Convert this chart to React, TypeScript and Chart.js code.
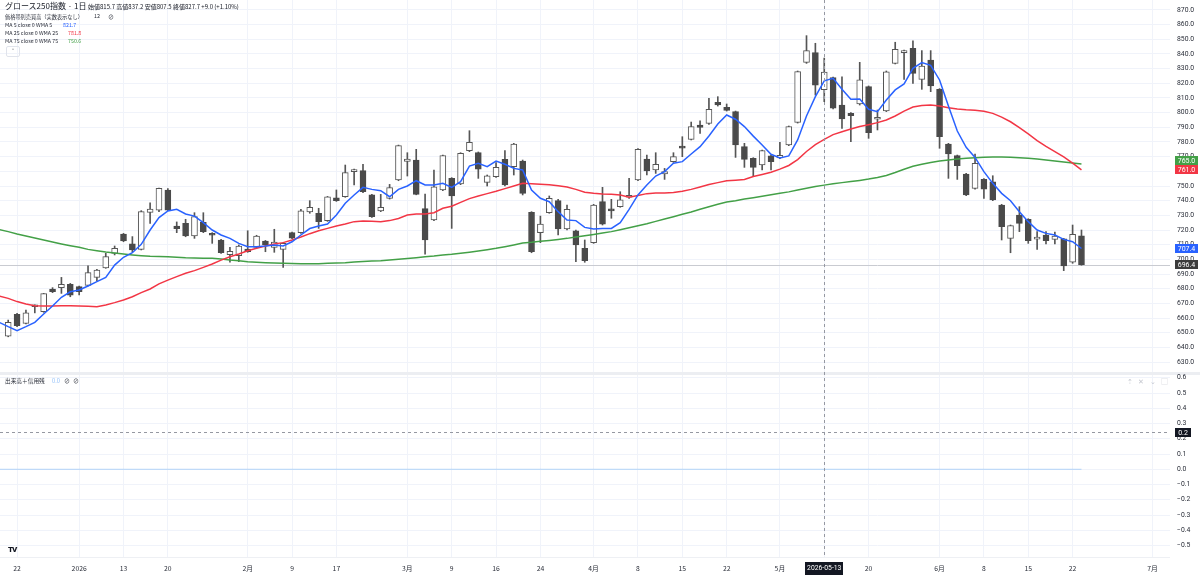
import { useEffect, useRef } from "react";
import { Chart, registerables } from "chart.js";

Chart.register(...registerables);

// daily candles, 2025-12-19 .. 2026-06-23 (index 0 .. 121)
const opens = [
  647.7, 662.5, 656.4, 667.7, 664.3, 679.8, 680.7, 682.9, 681.4, 682.3,
  687.7, 694.1, 704.1, 717.3, 710.5, 706.8, 732.0, 733.6, 747.3, 722.7,
  724.5, 715.9, 725.2, 717.7, 713.2, 703.2, 702.5, 707.0, 708.2, 712.5,
  708.2, 706.8, 718.2, 718.2, 732.3, 731.4, 726.4, 742.0, 742.7, 759.8,
  760.5, 743.9, 733.0, 741.6, 754.1, 766.8, 767.7, 734.6, 726.8, 747.3,
  755.2, 751.4, 774.1, 772.7, 752.5, 756.4, 768.2, 763.2, 767.0, 732.1,
  718.2, 731.8, 740.0, 720.7, 719.5, 707.5, 711.4, 739.3, 733.2, 735.9,
  742.3, 754.1, 768.4, 760.9, 758.2, 766.6, 776.5, 781.8, 791.6, 792.7,
  807.0, 803.6, 800.7, 776.8, 768.9, 764.3, 770.5, 769.1, 778.0, 793.4,
  834.3, 840.9, 815.7, 823.9, 805.2, 799.5, 805.9, 817.7, 795.5, 801.1,
  833.6, 840.9, 843.9, 822.7, 835.9, 815.9, 778.6, 770.7, 758.2, 748.4,
  754.5, 752.9, 737.0, 714.3, 730.2, 727.3, 713.8, 716.6, 713.6, 713.9,
  698.0, 716.1,
];
const highs = [
  658.6, 663.2, 665.4, 669.0, 676.8, 680.7, 687.7, 683.6, 681.8, 695.5,
  693.2, 704.1, 709.1, 717.7, 715.5, 733.2, 738.6, 748.6, 748.2, 725.5,
  727.3, 731.8, 731.8, 718.2, 713.6, 708.2, 709.8, 719.5, 716.4, 712.9,
  720.5, 711.4, 718.6, 734.1, 740.0, 734.8, 742.9, 747.3, 764.3, 761.6,
  764.8, 744.3, 744.3, 751.1, 777.9, 772.7, 775.0, 744.5, 760.9, 771.1,
  755.7, 772.7, 787.7, 773.2, 757.5, 765.9, 774.1, 779.1, 767.7, 732.5,
  729.5, 743.2, 740.9, 737.0, 720.0, 713.2, 737.5, 749.1, 740.9, 746.1,
  755.2, 775.5, 771.1, 772.7, 762.0, 772.7, 783.6, 793.6, 794.5, 809.8,
  810.9, 805.9, 801.1, 779.1, 769.3, 774.5, 771.0, 779.8, 790.9, 828.4,
  852.5, 847.3, 837.2, 824.3, 824.5, 800.0, 834.3, 818.2, 801.8, 828.4,
  848.0, 842.7, 848.9, 842.3, 842.3, 816.4, 779.1, 771.1, 758.6, 771.8,
  755.0, 757.0, 737.5, 723.4, 735.9, 727.7, 718.9, 718.9, 718.6, 714.3,
  723.4, 720.0,
];
const lows = [
  647.2, 654.1, 655.9, 663.5, 663.9, 677.3, 676.8, 674.5, 675.7, 681.8,
  685.5, 693.9, 703.0, 712.0, 705.2, 706.4, 724.5, 732.5, 733.2, 718.2,
  715.4, 714.3, 718.2, 710.9, 704.1, 698.0, 698.4, 704.8, 707.7, 705.2,
  704.8, 694.5, 714.1, 717.7, 731.4, 721.1, 725.9, 739.5, 742.3, 750.7,
  745.5, 728.6, 732.5, 741.1, 753.6, 756.8, 744.0, 703.6, 726.4, 746.8,
  721.1, 750.9, 773.4, 755.2, 750.0, 755.9, 750.0, 757.5, 743.9, 704.5,
  711.4, 731.4, 716.6, 720.0, 698.4, 698.0, 710.9, 723.4, 728.0, 735.5,
  741.6, 753.6, 757.5, 758.6, 754.5, 766.1, 770.0, 781.4, 785.9, 792.0,
  804.5, 801.1, 769.5, 762.7, 756.4, 760.9, 760.9, 768.6, 777.5, 792.9,
  833.6, 812.0, 807.5, 802.5, 789.3, 780.2, 805.2, 782.5, 788.2, 800.7,
  833.2, 822.7, 820.0, 815.9, 814.3, 775.7, 755.2, 754.5, 743.4, 747.9,
  741.6, 740.0, 713.2, 704.5, 718.9, 710.9, 706.8, 710.5, 710.5, 692.3,
  697.3, 696.0,
];
const closes = [
  657.0, 654.8, 663.6, 668.6, 676.6, 677.9, 682.9, 675.5, 677.9, 690.9,
  692.7, 701.8, 707.5, 712.5, 706.4, 732.5, 734.3, 748.4, 733.6, 720.9,
  715.9, 729.1, 718.9, 716.4, 704.5, 705.5, 709.1, 705.2, 715.9, 710.0,
  711.8, 710.9, 714.5, 733.0, 735.5, 725.7, 742.7, 740.0, 759.1, 760.9,
  746.1, 729.1, 735.5, 748.9, 777.5, 768.4, 744.3, 713.2, 749.5, 770.7,
  743.2, 772.3, 779.8, 761.4, 757.0, 762.7, 750.7, 778.6, 745.0, 705.2,
  724.1, 741.6, 720.7, 734.1, 709.8, 699.1, 737.0, 723.9, 733.0, 740.5,
  742.8, 775.0, 760.2, 764.8, 759.8, 770.0, 775.8, 790.5, 790.0, 802.3,
  805.2, 801.6, 778.0, 768.2, 762.7, 774.1, 766.6, 770.9, 790.5, 828.0,
  842.3, 818.7, 827.7, 803.0, 795.7, 798.0, 822.3, 786.4, 796.8, 827.9,
  843.2, 842.0, 826.8, 831.8, 818.2, 783.6, 771.8, 763.9, 743.9, 765.5,
  747.9, 740.5, 722.3, 723.0, 724.5, 712.7, 714.5, 712.7, 715.9, 695.5,
  717.0, 696.4,
];

// weighted moving averages, first value belongs to the day before index 0
const MA_START = -1;
const wma5 = [
  657.0, 654.1, 651.4, 654.1, 657.0, 662.7, 668.2, 674.1, 677.9, 679.1,
  681.8, 684.8, 687.7, 696.1, 701.4, 704.5, 710.2, 720.0, 728.5, 733.0,
  734.1, 730.9, 729.5, 725.0, 720.0, 716.6, 714.3, 710.9, 708.6, 708.6,
  709.1, 709.8, 709.1, 712.0, 716.6, 721.0, 722.7, 724.1, 730.2, 738.2,
  743.9, 749.1, 747.7, 746.8, 742.7, 747.7, 750.0, 753.6, 750.7, 750.7,
  751.8, 749.0, 753.0, 763.6, 765.5, 763.2, 767.0, 764.8, 762.0, 760.9,
  747.3, 741.6, 739.3, 732.5, 726.8, 726.4, 721.8, 720.7, 721.0, 721.1,
  725.0, 734.1, 743.9, 750.7, 756.8, 759.8, 765.5, 766.6, 771.8, 776.8,
  784.1, 792.3, 798.4, 795.5, 790.5, 784.0, 778.0, 771.6, 769.1, 770.5,
  781.4, 797.7, 810.9, 821.7, 823.4, 815.9, 809.1, 809.3, 802.3, 800.7,
  808.6, 815.5, 819.6, 830.2, 834.1, 832.3, 822.3, 804.5, 787.5, 776.4,
  769.5, 759.8, 751.8, 745.0, 740.0, 732.5, 725.7, 720.0, 717.7, 716.6,
  713.6, 712.0, 707.4,
];
const wma25 = [
  675.0, 673.4, 671.2, 669.5, 668.4, 668.2, 668.2, 668.3, 668.3, 668.2,
  668.0, 667.7, 668.9, 670.5, 672.3, 674.5, 677.3, 679.8, 683.3, 685.8,
  688.2, 690.5, 692.3, 694.5, 696.8, 699.5, 701.8, 703.6, 705.9, 707.5,
  709.1, 710.5, 711.4, 713.2, 715.2, 717.5, 719.5, 721.1, 722.7, 724.1,
  725.7, 726.1, 725.9, 725.7, 726.4, 727.9, 730.2, 730.9, 730.9, 731.8,
  734.8, 736.2, 738.8, 741.4, 743.2, 744.8, 746.4, 748.2, 750.0, 751.8,
  751.6, 751.2, 750.8, 750.2, 749.3, 747.7, 745.7, 745.0, 744.5, 744.3,
  743.9, 742.3, 743.5, 744.8, 745.3, 745.2, 745.5, 746.4, 747.7, 749.3,
  751.0, 752.3, 753.6, 754.0, 754.5, 756.5, 757.9, 759.4, 761.5, 764.0,
  768.0, 773.5, 778.2, 781.8, 785.0, 787.0, 788.8, 790.5, 791.8, 793.2,
  795.0, 797.7, 801.0, 803.8, 804.8, 805.2, 804.6, 803.4, 802.5, 802.0,
  801.7, 801.0, 799.5, 797.0, 793.8, 789.8, 785.5, 781.0, 777.0, 773.5,
  769.8, 765.6, 761.0,
];
const wma75 = [
  720.3, 718.9, 717.3, 715.9, 714.5, 713.2, 711.8, 710.5, 709.3, 708.2,
  706.8, 705.9, 705.0, 704.3, 703.6, 703.0, 702.5, 702.1, 701.9, 701.8,
  701.5, 701.1, 700.9, 700.8, 700.7, 700.2, 699.5, 699.1, 698.4, 698.0,
  697.7, 697.5, 697.3, 697.2, 697.0, 697.0, 697.0, 697.3, 697.5, 697.7,
  698.2, 698.6, 698.9, 699.1, 699.5, 700.0, 700.5, 701.1, 701.8, 702.3,
  703.0, 703.5, 704.2, 704.9, 705.7, 706.6, 707.5, 708.6, 709.8, 711.1,
  711.6, 712.3, 712.9, 713.6, 714.3, 715.2, 716.1, 717.0, 717.9, 718.9,
  720.2, 721.6, 722.9, 724.3, 725.9, 727.5, 729.1, 730.7, 732.3, 734.1,
  735.9, 737.5, 739.1, 740.0, 741.1, 742.0, 743.0, 744.0, 745.0, 746.0,
  747.3, 748.5, 749.6, 750.6, 751.5, 752.3, 753.0, 753.8, 754.7, 755.8,
  757.2, 759.2, 761.4, 763.4, 764.8, 766.0, 767.0, 767.8, 768.4, 768.9,
  769.3, 769.6, 769.8, 769.8, 769.6, 769.3, 769.0, 768.4, 767.8, 767.0,
  766.3, 765.6, 765.0,
];

// 出来高＋信用残 pane: a flat line at zero
const creditIndex = [-1, 121];
const creditValues = [0.0, 0.0];

const priceTicks = [630, 640, 650, 660, 670, 680, 690, 700, 710, 720, 730, 740, 750, 760, 770, 780, 790, 800, 810, 820, 830, 840, 850, 860, 870];
const subTicks = [0.6, 0.5, 0.4, 0.3, 0.2, 0.1, 0.0, -0.1, -0.2, -0.3, -0.4, -0.5];
const dateTicks = [1, 8, 13, 18, 27, 32, 37, 45, 50, 55, 60, 66, 71, 76, 81, 87, 92, 97, 105, 110, 115, 120, 129];
const dateLabels = ["22", "2026", "13", "20", "2月", "9", "17", "3月", "9", "16", "24", "4月", "8", "15", "22", "5月", "13", "20", "6月", "8", "15", "22", "7月"];

const X_MIN = -0.924;
const X_MAX = 130.98;
const CROSS_INDEX = 92;
const CROSS_DATE = "2026-05-13";
const CROSS_SUB = 0.246;

const FONT = "Roboto, 'Noto Sans', sans-serif";
const JP = "'Noto Sans CJK JP', 'Noto Sans', sans-serif";
const TEXT = "#2a2e39";
const GRID = "#f0f3fa";
const DARK = "#4a4a4a";
const BLUE = "#2962ff";
const RED = "#f23645";
const GREEN = "#43a047";

const tagBox = (ctx: any, x: number, y: number, w: number, text: string, bg: string) => {
  ctx.fillStyle = bg;
  ctx.fillRect(x, Math.round(y - 4.5), w, 9);
  ctx.fillStyle = "#ffffff";
  ctx.font = `7px ${FONT}`;
  ctx.textAlign = "center";
  ctx.textBaseline = "middle";
  ctx.fillText(text, x + w / 2, y + 0.5);
};

const crossLine = {
  id: "crossLine",
  afterDatasetsDraw(chart: any) {
    const { ctx, chartArea, scales } = chart;
    const x = Math.round(scales.x.getPixelForValue(CROSS_INDEX)) + 0.5;
    ctx.save();
    ctx.strokeStyle = "#9598a1";
    ctx.lineWidth = 1;
    ctx.setLineDash([3, 3]);
    ctx.beginPath();
    ctx.moveTo(x, 0);
    ctx.lineTo(x, chartArea.bottom);
    ctx.stroke();
    ctx.restore();
  },
};

const priceExtras = {
  id: "priceExtras",
  beforeDatasetsDraw(chart: any) {
    const { ctx, chartArea, scales } = chart;
    const y = Math.round(scales.y.getPixelForValue(closes[closes.length - 1])) + 0.5;
    ctx.save();
    ctx.strokeStyle = "#c9cbd1";
    ctx.lineWidth = 1;
    ctx.beginPath();
    ctx.moveTo(chartArea.left, y);
    ctx.lineTo(chartArea.right, y);
    ctx.stroke();
    ctx.restore();
  },
  afterDraw(chart: any) {
    const { ctx, scales } = chart;
    const tags = [
      { v: wma75[wma75.length - 1], c: GREEN },
      { v: wma25[wma25.length - 1], c: RED },
      { v: wma5[wma5.length - 1], c: BLUE },
      { v: closes[closes.length - 1], c: "#3c3c3c" },
    ].map((t) => ({ ...t, y: scales.y.getPixelForValue(t.v) }));
    tags.sort((a, b) => b.y - a.y);
    for (let i = 1; i < tags.length; i++) {
      if (tags[i - 1].y - tags[i].y < 9) tags[i].y = tags[i - 1].y - 9;
    }
    ctx.save();
    tags.forEach((t) => tagBox(ctx, 1175, t.y, 23, t.v.toFixed(1), t.c));
    ctx.restore();
  },
};

const subExtras = {
  id: "subExtras",
  afterDraw(chart: any) {
    const { ctx, chartArea, scales } = chart;
    const y = Math.round(scales.y.getPixelForValue(CROSS_SUB)) + 0.5;
    ctx.save();
    ctx.strokeStyle = "#9598a1";
    ctx.lineWidth = 1;
    ctx.setLineDash([3, 3]);
    ctx.beginPath();
    ctx.moveTo(chartArea.left, y);
    ctx.lineTo(chartArea.right, y);
    ctx.stroke();
    ctx.setLineDash([]);
    tagBox(ctx, 1175, y, 16, CROSS_SUB.toFixed(1), "#131722");
    const x = scales.x.getPixelForValue(CROSS_INDEX);
    ctx.fillStyle = "#131722";
    ctx.fillRect(Math.round(x - 19), chartArea.bottom + 5, 38, 13);
    ctx.fillStyle = "#ffffff";
    ctx.font = `6.8px ${FONT}`;
    ctx.textAlign = "center";
    ctx.textBaseline = "middle";
    ctx.fillText(CROSS_DATE, x, chartArea.bottom + 11.5);
    ctx.restore();
  },
};

const xAxis = (showLabels: boolean) => ({
  type: "linear" as const,
  min: X_MIN,
  max: X_MAX,
  offset: false,
  grid: { color: GRID, drawTicks: false, offset: false },
  border: { display: false },
  ticks: {
    display: showLabels,
    font: { family: JP, size: 6.8 },
    color: TEXT,
    padding: 7,
    maxRotation: 0,
    autoSkip: false,
    callback: (_v: any, i: number) => dateLabels[i],
  },
  afterBuildTicks: (s: any) => {
    s.ticks = dateTicks.map((v) => ({ value: v }));
  },
  afterFit: (s: any) => {
    s.height = showLabels ? 20 : 0;
    s.paddingLeft = 0;
    s.paddingRight = 0;
  },
});

const yAxis = (min: number, max: number, ticks: number[], fmt: (v: number) => string) => ({
  position: "right" as const,
  min,
  max,
  grid: { color: GRID, drawTicks: false },
  border: { display: false },
  ticks: {
    font: { family: FONT, size: 6.8 },
    color: TEXT,
    padding: 7,
    callback: (v: any) => fmt(Number(v)),
  },
  afterBuildTicks: (s: any) => {
    s.ticks = ticks.map((v) => ({ value: v }));
  },
  afterFit: (s: any) => {
    s.width = 30;
    s.paddingTop = 0;
    s.paddingBottom = 0;
  },
});

const maLine = (values: number[], color: string) => ({
  type: "line" as const,
  data: values.map((v, i) => ({ x: i + MA_START, y: v })),
  borderColor: color,
  borderWidth: 1.5,
  pointRadius: 0,
  tension: 0,
  order: 1,
});

const App = () => {
  const topRef = useRef<HTMLCanvasElement>(null);
  const subRef = useRef<HTMLCanvasElement>(null);

  useEffect(() => {
    document.body.style.margin = "0";
    if (!topRef.current || !subRef.current) return;
    const up = closes.map((c, i) => c >= opens[i]);

    const top = new Chart(topRef.current, {
      type: "bar",
      data: {
        datasets: [
          maLine(wma5, BLUE),
          maLine(wma25, RED),
          maLine(wma75, GREEN),
          {
            type: "bar",
            data: opens.map((o, i) => ({ x: i, y: [o, closes[i]] })) as any,
            backgroundColor: up.map((u) => (u ? "#ffffff" : DARK)),
            borderColor: up.map((u) => (u ? "#555555" : DARK)),
            borderWidth: 1,
            borderSkipped: false,
            barThickness: 6,
            minBarLength: 2,
            grouped: false,
            order: 2,
          },
          {
            type: "bar",
            data: lows.map((l, i) => ({ x: i, y: [l, highs[i]] })) as any,
            backgroundColor: "#555555",
            barThickness: 1,
            grouped: false,
            order: 3,
          },
        ] as any,
      },
      options: {
        animation: false,
        responsive: false,
        events: [],
        layout: { padding: 0 },
        plugins: { legend: { display: false }, tooltip: { enabled: false } },
        scales: {
          x: xAxis(false),
          y: yAxis(623.2, 876.8, priceTicks, (v) => v.toFixed(1)),
        } as any,
      },
      plugins: [priceExtras, crossLine],
    });

    const sub = new Chart(subRef.current, {
      type: "line",
      data: {
        datasets: [
          {
            data: creditIndex.map((x, i) => ({ x, y: creditValues[i] })),
            borderColor: "rgba(100, 170, 245, 0.45)",
            borderWidth: 1,
            pointRadius: 0,
          },
        ],
      },
      options: {
        animation: false,
        responsive: false,
        events: [],
        layout: { padding: { top: 3 } },
        plugins: { legend: { display: false }, tooltip: { enabled: false } },
        scales: {
          x: xAxis(true),
          y: yAxis(-0.575, 0.618, subTicks, (v) => (v < -0.001 ? "\u2212" + Math.abs(v).toFixed(1) : Math.abs(v).toFixed(1))),
        } as any,
      },
      plugins: [subExtras, crossLine],
    });

    return () => {
      top.destroy();
      sub.destroy();
    };
  }, []);

  const txt = (left: number, top: number, size: number, text: string, color = TEXT, extra: any = {}) => (
    <div
      style={{
        position: "absolute",
        left,
        top,
        fontSize: size,
        lineHeight: `${size + 2}px`,
        color,
        whiteSpace: "nowrap",
        fontFamily: JP,
        ...extra,
      }}
    >
      {text}
    </div>
  );

  return (
    <div style={{ position: "relative", width: 1200, height: 577, background: "#ffffff", overflow: "hidden" }}>
      <canvas ref={topRef} width={1200} height={372} style={{ position: "absolute", left: 0, top: 0 }} />
      <div style={{ position: "absolute", left: 0, top: 372, width: 1200, height: 3, background: "#eceef2" }} />
      <canvas ref={subRef} width={1200} height={205} style={{ position: "absolute", left: 0, top: 372 }} />
      <div style={{ position: "absolute", left: 0, top: 557, width: 1170, height: 1, background: "#eef0f4" }} />

      {txt(5, 1, 8, "グロース250指数 · 1日", "#131722")}
      {txt(88, 2.5, 6, "始値815.7 高値837.2 安値807.5 終値827.7 +9.0 (+1.10%)", "#131722")}
      {txt(5, 13, 5.2, "価格帯別売買高（実数表示なし）", TEXT)}
      {txt(94, 13, 5.4, "12", TEXT)}
      {txt(108, 12.5, 6, "⊘", TEXT)}
      {txt(5, 21.5, 5.3, "MA 5 close 0 WMA 5", TEXT)}
      {txt(63, 21.5, 5.3, "821.7", BLUE)}
      {txt(5, 29.5, 5.3, "MA 25 close 0 WMA 25", TEXT)}
      {txt(68, 29.5, 5.3, "781.8", RED)}
      {txt(5, 37.5, 5.3, "MA 75 close 0 WMA 75", TEXT)}
      {txt(68, 37.5, 5.3, "750.6", GREEN)}
      <div
        style={{
          position: "absolute",
          left: 6,
          top: 46,
          width: 12,
          height: 9,
          border: "1px solid #e0e3eb",
          borderRadius: 2,
          fontSize: 7,
          lineHeight: "11px",
          textAlign: "center",
          color: TEXT,
          fontFamily: FONT,
        }}
      >
        ˄
      </div>

      {txt(5, 377, 5.7, "出来高＋信用残", TEXT)}
      {txt(52, 377, 5.7, "0.0", "#90bff9")}
      {txt(64, 376.5, 6, "⊘", TEXT)}
      {txt(73, 376.5, 6, "⊘", TEXT)}
      {txt(1127, 376.5, 6.5, "⇡  ✕  ⌄  ▢", "#c3c6ce", { letterSpacing: 2 })}

      {txt(8, 545, 8, "TV", "#131722", { fontWeight: 900, fontFamily: FONT, letterSpacing: -1 })}
    </div>
  );
};

export default App;
